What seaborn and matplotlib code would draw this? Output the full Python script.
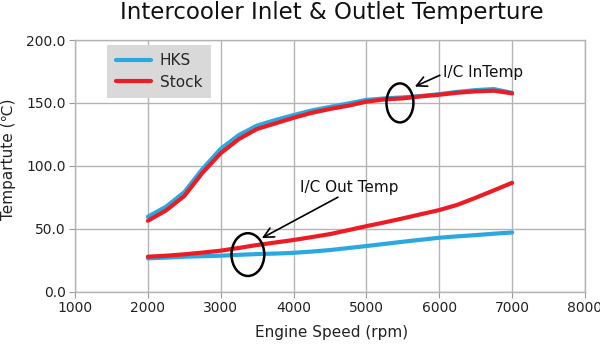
import numpy as np
import pandas as pd
import matplotlib
matplotlib.use("Agg")
import matplotlib.pyplot as plt
import seaborn as sns
from matplotlib.patches import Ellipse

rpm = [2000, 2250, 2500, 2750, 3000, 3250, 3500, 3750, 4000, 4250, 4500,
       4750, 5000, 5250, 5500, 5750, 6000, 6250, 6500, 6750, 7000]
hks_in = [59.5, 67.5, 79, 97.5, 113.5, 124.5, 132, 136.4, 140.3, 144, 146.8,
          149.6, 152.4, 153.6, 154.4, 155.5, 157, 158.8, 160.2, 161, 158]
stock_in = [56.3, 64.5, 76, 94.5, 110, 121.3, 129.3, 133.7, 138.2, 142.1, 145.2,
            147.8, 151, 152.8, 153.6, 155.2, 156.5, 158.1, 159.2, 159.7, 157.6]
hks_out = [26.4, 27, 27.7, 28.1, 28.5, 29.2, 29.8, 30.2, 30.8, 31.8, 33,
           34.6, 36.2, 37.9, 39.6, 41.2, 42.8, 43.9, 44.9, 46, 47]
stock_out = [27.7, 28.5, 29.6, 31, 32.5, 34.7, 37, 39, 41, 43.3, 45.7,
             48.8, 52, 55, 58.2, 61.5, 64.8, 69, 74.6, 80.5, 86.5]

series = ["HKS", "Stock"]
colors = {"HKS": "#2aa8e0", "Stock": "#ed1c24"}
title = "Intercooler Inlet & Outlet Temperture"
xlabel = "Engine Speed (rpm)"
ylabel = "Tempartute (\u2103)"
xticks = [1000, 2000, 3000, 4000, 5000, 6000, 7000, 8000]
yticks = [0, 50, 100, 150, 200]

frames = []
for name, loc, vals in [("HKS", "in", hks_in), ("Stock", "in", stock_in),
                        ("HKS", "out", hks_out), ("Stock", "out", stock_out)]:
    frames.append(pd.DataFrame({"rpm": rpm, "temp": vals, "setup": name, "loc": loc}))
df = pd.concat(frames, ignore_index=True)

sns.set_style("white")
plt.rcParams['font.family'] = ['DejaVu Sans']

fig = plt.figure(figsize=(6, 3.5), dpi=100)
ax = fig.add_axes([0.125, 0.167, 0.85, 0.7186])

sns.lineplot(data=df, x="rpm", y="temp", hue="setup", units="loc",
             estimator=None, palette=colors, hue_order=series,
             linewidth=3, ax=ax, sort=False)

ax.set_xlim(1000, 8000)
ax.set_ylim(0, 200)
ax.set_xticks(xticks)
ax.set_yticks(yticks)
ax.set_yticklabels([f"{v:.1f}" for v in yticks])
ax.grid(True, color="#b4b4b4", linewidth=1)
for s in ax.spines.values():
    s.set_color("#b4b4b4")
    s.set_linewidth(1)
ax.tick_params(axis="both", which="both", length=4.3, color="#999999",
               labelsize=10, labelcolor="#222222", direction="out",
               bottom=True, left=True, pad=2.5)
ax.set_xlabel("")
ax.set_ylabel("")

fig.text(0.553, 0.963, title, ha="center", va="center", fontsize=16.5, color="#111111")
fig.text(0.552, 0.049, xlabel, ha="center", va="center", fontsize=11, color="#222222")
fig.text(0.014, 0.545, ylabel, ha="center", va="center", rotation=90, fontsize=11, color="#222222")

leg = ax.legend(loc="upper left", bbox_to_anchor=(0.063, 0.98), frameon=True,
                fancybox=False, facecolor="#d9d9d9", edgecolor="none",
                framealpha=1, fontsize=11, handlelength=2.35, borderpad=0.55,
                labelspacing=0.4, handletextpad=0.55, borderaxespad=0)
for line in leg.get_lines():
    line.set_linewidth(3)

ax.add_patch(Ellipse((5460, 150), 370, 31, fill=False, edgecolor="black", linewidth=1.8, zorder=5))
ax.add_patch(Ellipse((3373, 29.4), 450, 34, fill=False, edgecolor="black", linewidth=1.8, zorder=5))

ax.text(6048, 174, "I/C InTemp", fontsize=11, color="#111111", va="center", ha="left")
ax.annotate("", xy=(5664, 163), xytext=(6007, 172),
            arrowprops=dict(arrowstyle="->", color="black", lw=1.2, mutation_scale=18,
                            shrinkA=0, shrinkB=0))
ax.text(4086, 83, "I/C Out Temp", fontsize=11, color="#111111", va="center", ha="left")
ax.annotate("", xy=(3565, 42.5), xytext=(4608, 75),
            arrowprops=dict(arrowstyle="->", color="black", lw=1.2, mutation_scale=18,
                            shrinkA=0, shrinkB=0))

fig.savefig("out.png", dpi=100)
